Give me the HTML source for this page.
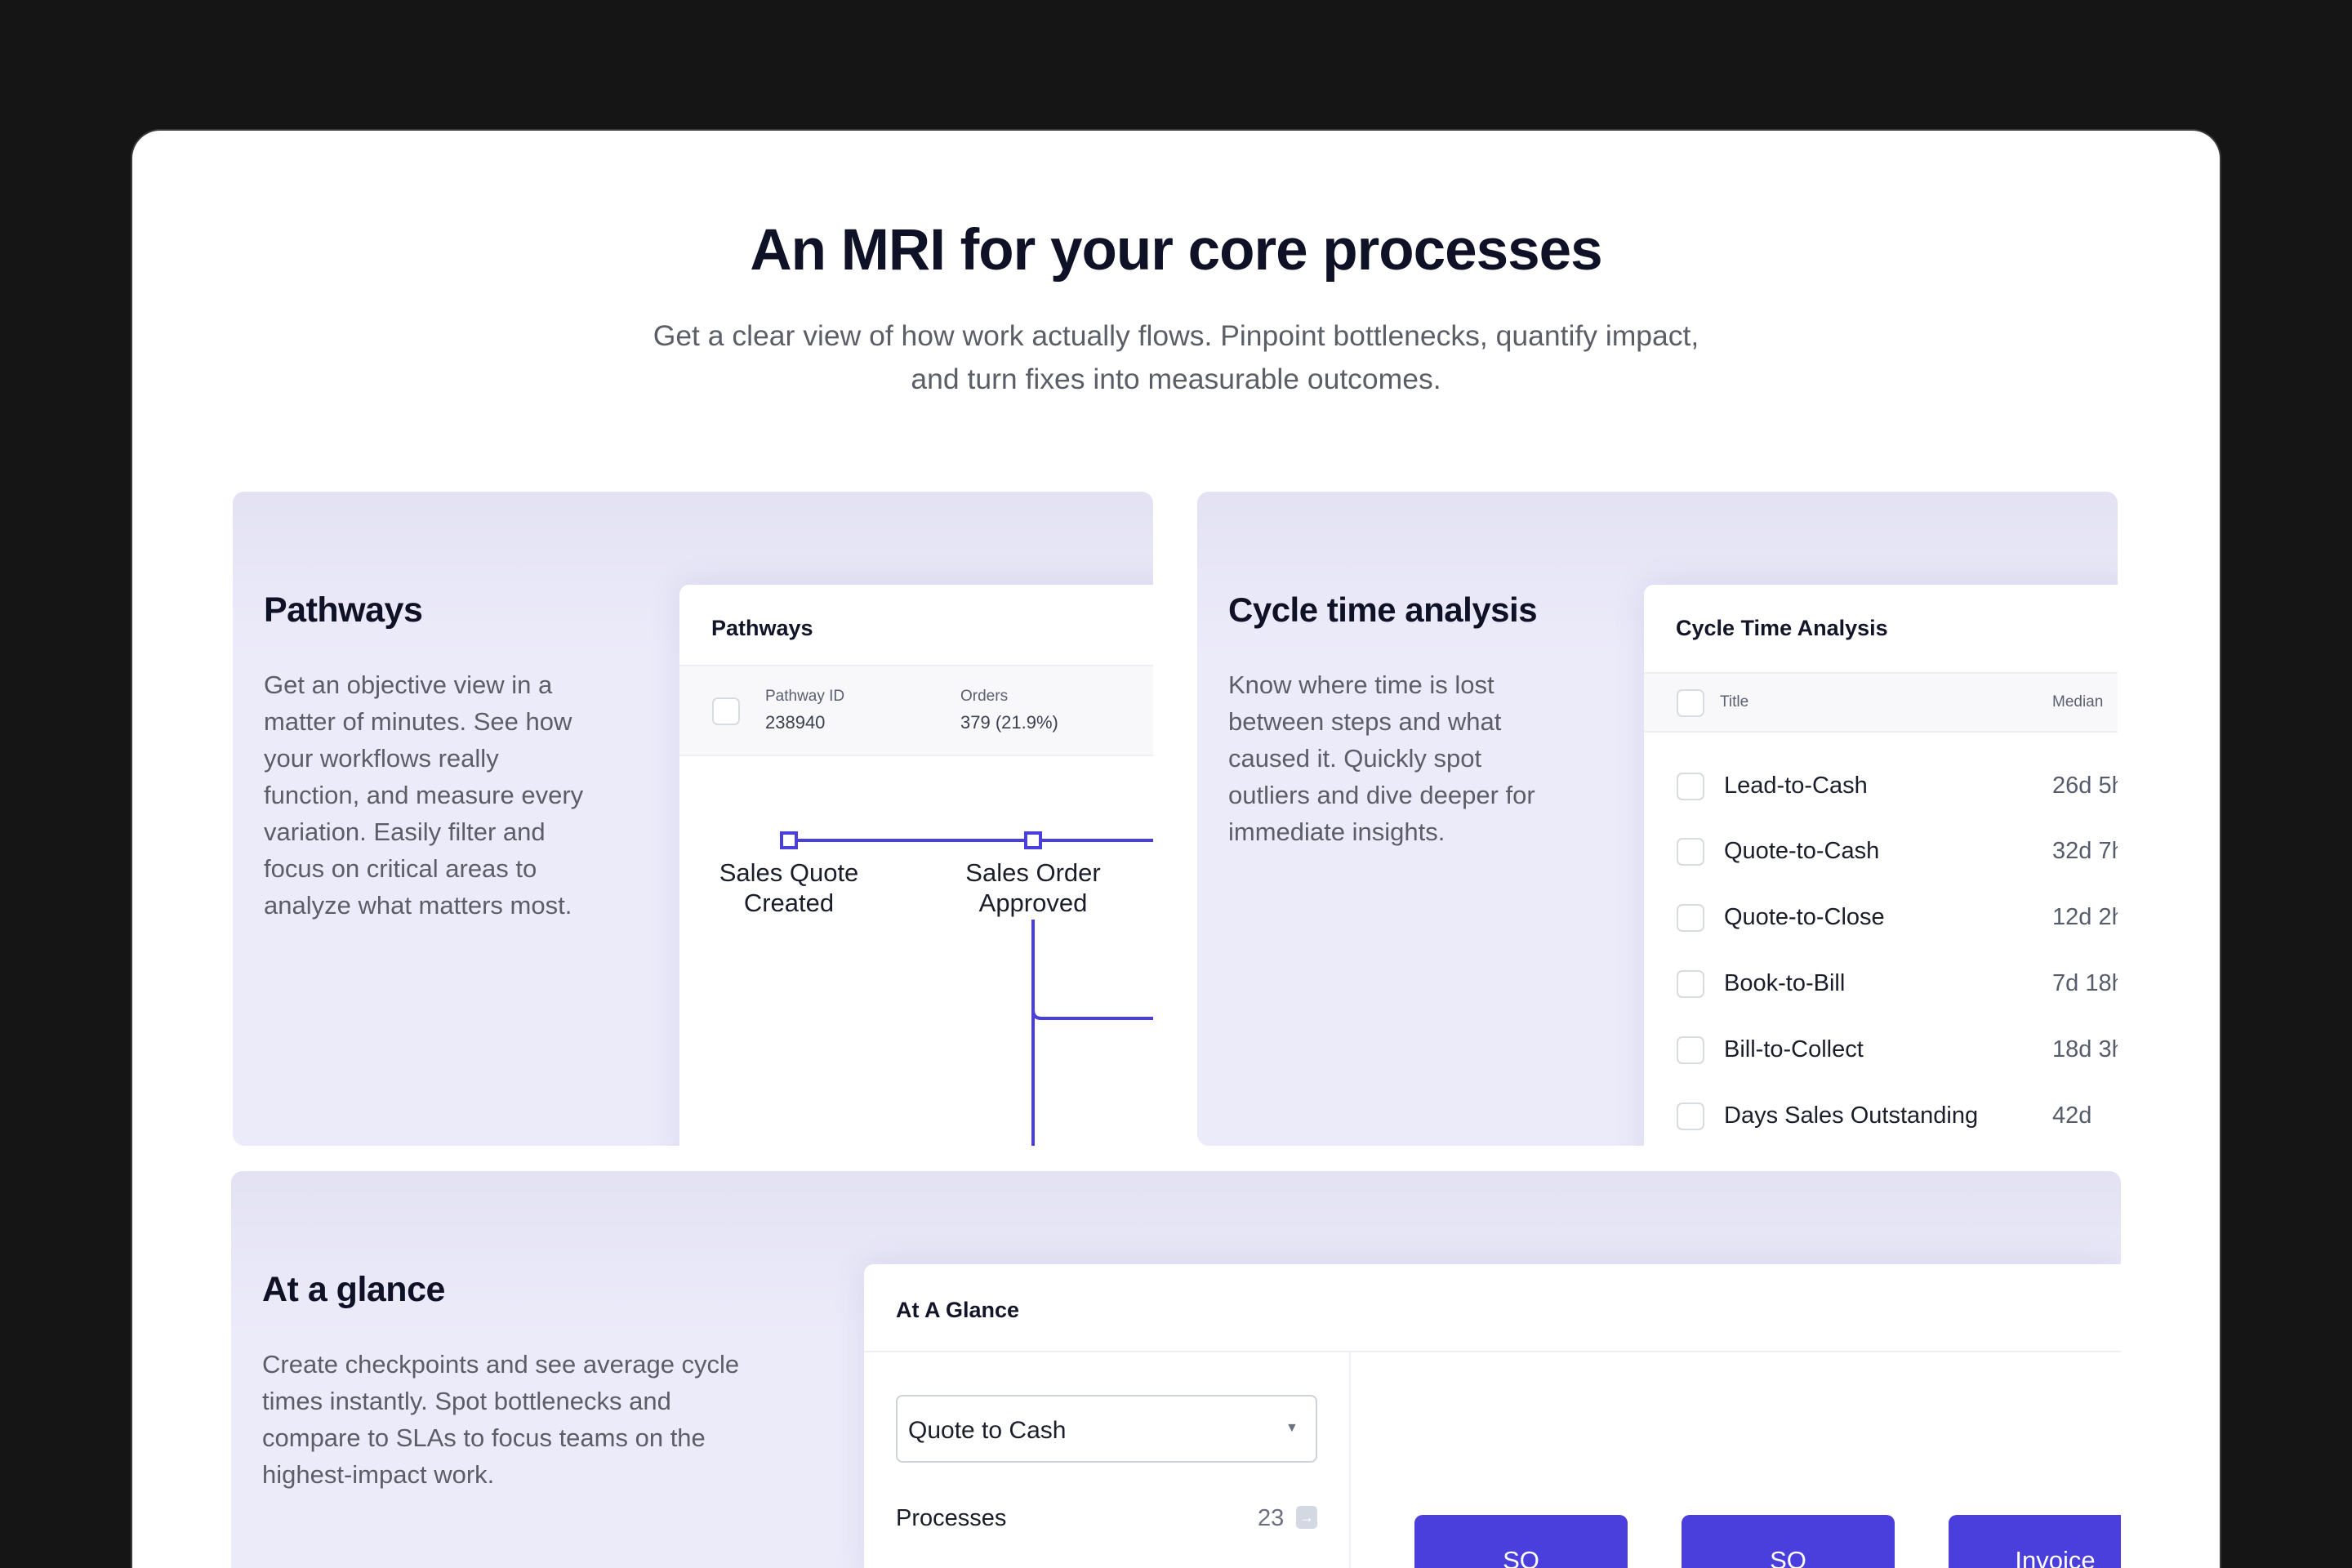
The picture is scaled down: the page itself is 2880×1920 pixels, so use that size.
<!DOCTYPE html>
<html><head><meta charset="utf-8"><style>
*{margin:0;padding:0;box-sizing:border-box}
html,body{width:2880px;height:1920px;overflow:hidden}
body{background:#151515;font-family:"Liberation Sans",sans-serif;position:relative}
#wrap{position:absolute;left:0;top:0;width:2880px;height:1920px;overflow:hidden}
.card{position:absolute;left:160px;top:158px;width:2560px;height:1762px;background:#fff;border-radius:36px 36px 0 0;border:2px solid #3a3a3a;border-bottom:none}
.abs{position:absolute}
h1{position:absolute;left:0;width:2880px;top:266px;text-align:center;font-size:71px;font-weight:700;color:#0f1226;letter-spacing:-1px}
.sub{position:absolute;left:0;width:2880px;top:385px;text-align:center;font-size:35.5px;line-height:53px;color:#5b5e66}
.panel{position:absolute;background:linear-gradient(180deg,#e3e2f3 0px,#e8e7f7 100px,#ecebfa 200px,#ecebfa 100%);border-radius:14px;overflow:hidden}
.ph{position:absolute;font-size:43px;font-weight:700;color:#0f1226;letter-spacing:-0.5px}
.pb{position:absolute;font-size:31px;line-height:45px;color:#5b5e66}
.ic{position:absolute;background:#fff;border-radius:12px 0 0 0;box-shadow:0 0 40px rgba(80,70,160,0.12);overflow:hidden}
.cb{position:absolute;width:34px;height:34px;border:2px solid #d8dbe0;border-radius:7px;background:#fff}
.blue{background:#4a3fdc}
.row{position:absolute;font-size:29px;color:#1a1d2a}
.val{position:absolute;font-size:29px;color:#555d6c}
</style></head><body><div id="wrap">
<div class="card"></div>
<h1>An MRI for your core processes</h1>
<div class="sub">Get a clear view of how work actually flows. Pinpoint bottlenecks, quantify impact,<br>and turn fixes into measurable outcomes.</div>

<!-- Panel 1 -->
<div class="panel" style="left:285px;top:602px;width:1127px;height:801px">
  <div class="ph" style="left:38px;top:121px">Pathways</div>
  <div class="pb" style="left:38px;top:214px;width:405px">Get an objective view in a matter of minutes. See how your workflows really function, and measure every variation. Easily filter and focus on critical areas to analyze what matters most.</div>
  <div class="ic" style="left:547px;top:114px;width:620px;height:720px">
    <div class="abs" style="left:39px;top:38px;font-size:27px;font-weight:700;color:#121528">Pathways</div>
    <div class="abs" style="left:0;top:98px;width:620px;height:112px;background:#f8f8fb;border-top:2px solid #eeeef3;border-bottom:2px solid #eeeef3"></div>
    <div class="cb" style="left:40px;top:138px"></div>
    <div class="abs" style="left:105px;top:126px;font-size:19px;color:#5b6070">Pathway ID</div>
    <div class="abs" style="left:105px;top:156px;font-size:22px;color:#3c4150">238940</div>
    <div class="abs" style="left:344px;top:126px;font-size:19px;color:#5b6070">Orders</div>
    <div class="abs" style="left:344px;top:156px;font-size:22px;color:#3c4150">379 (21.9%)</div>
    <svg class="abs" style="left:0;top:0" width="620" height="720">
      <line x1="134" y1="313" x2="620" y2="313" stroke="#4a3fdc" stroke-width="4"/>
      <path d="M433 410 V720 M433 521 Q433 531 443 531 H620" fill="none" stroke="#4a3fdc" stroke-width="4"/>
      <rect x="125" y="304" width="18" height="18" fill="#fff" stroke="#4a3fdc" stroke-width="4"/>
      <rect x="424" y="304" width="18" height="18" fill="#fff" stroke="#4a3fdc" stroke-width="4"/>
    </svg>
    <div class="abs" style="left:14px;top:334px;width:240px;text-align:center;font-size:31px;line-height:37px;color:#1a1d2a">Sales Quote<br>Created</div>
    <div class="abs" style="left:313px;top:334px;width:240px;text-align:center;font-size:31px;line-height:37px;color:#1a1d2a">Sales Order<br>Approved</div>
  </div>
</div>

<!-- Panel 2 -->
<div class="panel" style="left:1466px;top:602px;width:1127px;height:801px">
  <div class="ph" style="left:38px;top:121px;font-size:42px">Cycle time analysis</div>
  <div class="pb" style="left:38px;top:214px;width:395px">Know where time is lost between steps and what caused it. Quickly spot outliers and dive deeper for immediate insights.</div>
  <div class="ic" style="left:547px;top:114px;width:620px;height:720px">
    <div class="abs" style="left:39px;top:38px;font-size:27px;font-weight:700;color:#121528">Cycle Time Analysis</div>
    <div class="abs" style="left:0;top:107px;width:620px;height:74px;background:#f8f8fb;border-top:2px solid #eeeef3;border-bottom:2px solid #eeeef3"></div>
    <div class="cb" style="left:40px;top:128px"></div>
    <div class="abs" style="left:93px;top:133px;font-size:19px;color:#5b6070">Title</div>
    <div class="abs" style="left:500px;top:133px;font-size:19px;color:#5b6070">Median</div>
    <div class="cb" style="left:40px;top:230px"></div><div class="row" style="left:98px;top:230px">Lead-to-Cash</div><div class="val" style="left:500px;top:230px">26d 5h</div>
    <div class="cb" style="left:40px;top:310px"></div><div class="row" style="left:98px;top:310px">Quote-to-Cash</div><div class="val" style="left:500px;top:310px">32d 7h</div>
    <div class="cb" style="left:40px;top:391px"></div><div class="row" style="left:98px;top:391px">Quote-to-Close</div><div class="val" style="left:500px;top:391px">12d 2h</div>
    <div class="cb" style="left:40px;top:472px"></div><div class="row" style="left:98px;top:472px">Book-to-Bill</div><div class="val" style="left:500px;top:472px">7d 18h</div>
    <div class="cb" style="left:40px;top:553px"></div><div class="row" style="left:98px;top:553px">Bill-to-Collect</div><div class="val" style="left:500px;top:553px">18d 3h</div>
    <div class="cb" style="left:40px;top:634px"></div><div class="row" style="left:98px;top:634px">Days Sales Outstanding</div><div class="val" style="left:500px;top:634px">42d</div>
  </div>
</div>

<!-- Panel 3 -->
<div class="panel" style="left:283px;top:1434px;width:2314px;height:486px;border-radius:14px 14px 0 0">
  <div class="ph" style="left:38px;top:121px">At a glance</div>
  <div class="pb" style="left:38px;top:214px;width:600px">Create checkpoints and see average cycle times instantly. Spot bottlenecks and compare to SLAs to focus teams on the highest-impact work.</div>
  <div class="ic" style="left:775px;top:114px;width:1539px;height:380px">
    <div class="abs" style="left:39px;top:41px;font-size:27px;font-weight:700;color:#121528">At A Glance</div>
    <div class="abs" style="left:0;top:106px;width:1600px;height:2px;background:#eeeef3"></div>
    <div class="abs" style="left:594px;top:108px;width:2px;height:300px;background:#f0f0f4"></div>
    <div class="abs" style="left:39px;top:160px;width:516px;height:83px;border:2px solid #cfd2d8;border-radius:8px"></div>
    <div class="abs" style="left:54px;top:187px;font-size:30px;color:#1a1d2a">Quote to Cash</div>
    <div class="abs" style="left:516px;top:192px;font-size:16px;color:#6b7080">▼</div>
    <div class="abs" style="left:39px;top:295px;font-size:29px;color:#1a1d2a">Processes</div>
    <div class="abs" style="left:482px;top:295px;font-size:29px;color:#6b7080">23</div>
    <div class="abs" style="left:529px;top:296px;width:26px;height:28px;background:#d4d8e2;border-radius:5px;color:#fff;font-size:18px;text-align:center;line-height:28px">→</div>
    <div class="abs blue" style="left:674px;top:307px;width:261px;height:80px;border-radius:10px 10px 0 0"></div>
    <div class="abs" style="left:674px;top:345px;width:261px;text-align:center;font-size:31px;color:#fff">SO</div>
    <div class="abs blue" style="left:1001px;top:307px;width:261px;height:80px;border-radius:10px 10px 0 0"></div>
    <div class="abs" style="left:1001px;top:345px;width:261px;text-align:center;font-size:31px;color:#fff">SO</div>
    <div class="abs blue" style="left:1328px;top:307px;width:261px;height:80px;border-radius:10px 10px 0 0"></div>
    <div class="abs" style="left:1328px;top:345px;width:261px;text-align:center;font-size:31px;color:#fff">Invoice</div>
  </div>
</div>
</div></body></html>
